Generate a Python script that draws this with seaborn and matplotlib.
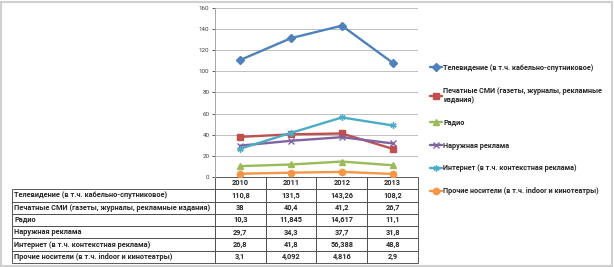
import pandas as pd
import seaborn as sns
import matplotlib.pyplot as plt
from matplotlib.patches import Rectangle

years = [2010, 2011, 2012, 2013]
series = [
    "Телевидение (в т.ч. кабельно-спутниковое)",
    "Печатные СМИ (газеты, журналы, рекламные издания)",
    "Радио",
    "Наружная реклама",
    "Интернет (в т.ч. контекстная реклама)",
    "Прочие носители (в т.ч. indoor и кинотеатры)",
]
tv = [110.8, 131.5, 143.26, 108.2]
press = [38, 40.4, 41.2, 26.7]
radio = [10.3, 11.845, 14.617, 11.1]
outdoor = [29.7, 34.3, 37.7, 31.8]
internet = [26.8, 41.8, 56.388, 48.8]
other = [3.1, 4.092, 4.816, 2.9]
values = [tv, press, radio, outdoor, internet, other]

colors = ["#4F81BD", "#C0504D", "#9BBB59", "#8064A2", "#4BACC6", "#F79646"]
markers = ["D", "s", "^", "x", (6, 2, 0), "o"]

rows = []
for name, vals in zip(series, values):
    for y, v in zip(years, vals):
        rows.append({"year": y, "value": v, "series": name})
df = pd.DataFrame(rows)

sns.set_style("white")
plt.rcParams["font.family"] = ["Roboto", "DejaVu Sans"]

fig = plt.figure(figsize=(6.14, 2.67), dpi=100)
ax = fig.add_axes([215 / 614, 90 / 267, 203 / 614, 169 / 267])

# one call per series so filled and line markers can be mixed
for name, col, mk in zip(series, colors, markers):
    sns.lineplot(data=df[df["series"] == name], x="year", y="value", color=col,
                 marker=mk, linewidth=1.7, markersize=4.5, markeredgewidth=1,
                 markeredgecolor=col, label=name, ax=ax)

ax.set_xlim(2009.5, 2013.5)
ax.set_ylim(0, 160)
ax.set_yticks(range(0, 161, 20))
ax.set_xticks([])
ax.set_xlabel("")
ax.set_ylabel("")
ax.tick_params(axis="y", labelsize=4.5, colors="#404040", length=2, width=0.6, pad=2)
ax.yaxis.set_ticks_position("left")
ax.grid(axis="y", color="#bfbfbf", linewidth=0.7)
for s in ["top", "right", "bottom"]:
    ax.spines[s].set_visible(False)
ax.spines["left"].set_color("#a6a6a6")
ax.spines["left"].set_linewidth(0.7)

# legend
handles, labels = ax.get_legend_handles_labels()
labels = [l.replace("рекламные издания)", "рекламные\nиздания)") for l in labels]
ax.legend(handles, labels, loc="upper left", bbox_to_anchor=(427 / 614, 1 - 61 / 267),
          bbox_transform=fig.transFigure, frameon=False, labelspacing=2.05,
          handlelength=1.7, handletextpad=0.15, borderaxespad=0,
          prop={"size": 5.2, "weight": "bold"})

# data table under the chart
cell_text = [[""] + [str(y) for y in years]]
for name, vals in zip(series, values):
    cell_text.append([name] + [f"{v:g}".replace(".", ",") for v in vals])
tab = ax.table(cellText=cell_text, bbox=[(12 - 215) / 203, -86 / 169, 406 / 203, 86 / 169],
               colWidths=[203, 50.75, 50.75, 50.75, 50.75], cellLoc="center")
tab.auto_set_font_size(False)
for (r, c), cell in tab.get_celld().items():
    cell.set_linewidth(0.6)
    cell.set_edgecolor("#404040")
    cell.get_text().set_fontsize(5.3)
    cell.get_text().set_fontweight("bold")
    if c == 0:
        cell.get_text().set_horizontalalignment("left")
        cell._loc = "left"
        cell.PAD = 0.01
    if r == 0 and c == 0:
        cell.visible_edges = ""

fig.patches.append(Rectangle((0.002, 0.004), 0.995, 0.99, transform=fig.transFigure,
                             fill=False, edgecolor="#d0d0d0", linewidth=1.5))

plt.savefig("out.png", dpi=100)
plt.close()
